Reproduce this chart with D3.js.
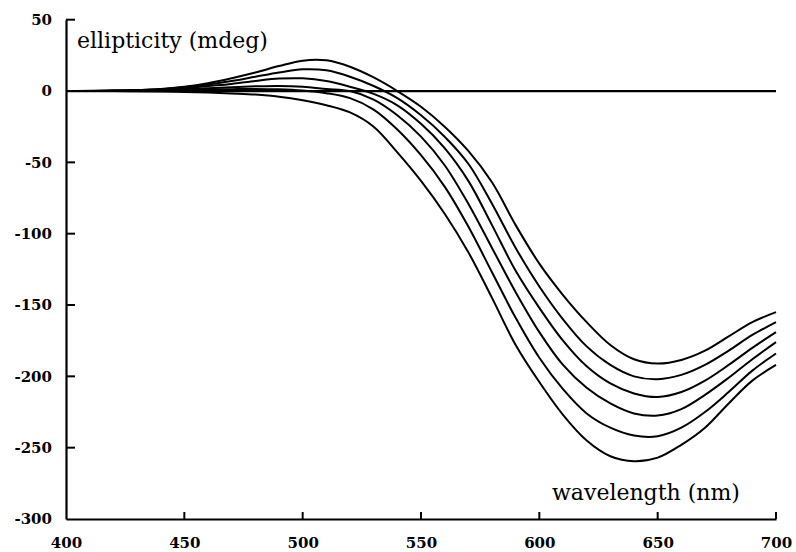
<!DOCTYPE html>
<html>
<head>
<meta charset="utf-8">
<script src="https://cdn.jsdelivr.net/npm/d3@7"></script>
<style>
  html, body { margin: 0; padding: 0; background: #fff; }
  svg text { font-family: "DejaVu Serif", serif; fill: #000; }
</style>
</head>
<body>
<div id="chart"></div>
<script>
// wavelength grid (nm)
var wavelengths = [400, 420, 440, 450, 460, 470, 480, 490, 500, 510, 520, 530, 540, 550, 560,
                   570, 580, 590, 600, 610, 620, 630, 640, 650, 660, 670, 680, 690, 700];

// ellipticity (mdeg), one array per spectrum, top to bottom
var spec1 = [0, 0.3, 1.5, 3, 5.5, 9, 13, 17.5, 21.3, 21.5, 17, 9.5, 0, -11, -25,
             -42, -64, -94, -121, -143, -162, -178, -188, -191, -188.5, -182, -172, -162, -155];
var spec2 = [0, 0.3, 1.3, 2.7, 4.5, 7, 10, 13, 15.2, 14.5, 10, 3.5, -5, -17, -32,
             -51, -79, -110, -137, -160, -179, -192, -200, -202, -199, -192, -182, -171, -162];
var spec3 = [0, 0.2, 1, 2, 3.5, 5, 7, 8.7, 8.9, 7, 3, -2, -10, -23, -40,
             -63, -94, -126, -152, -175, -193, -205, -212, -214.5, -211, -203, -192, -180, -169];
var spec4 = [0, 0.2, 0.7, 1.3, 2, 2.7, 3.3, 3.6, 3, 1.5, 0, -6, -17, -32, -52,
             -79, -110, -141, -169, -192, -208, -219, -226, -227.5, -223, -213, -201, -188, -176];
var spec5 = [0, 0, 0.3, 0.6, 1, 1.3, 1.5, 1.2, 0.3, -1.5, -5, -13, -27, -45, -67,
             -95, -127, -159, -187, -209, -226, -236, -241.5, -242, -236, -225, -211, -196, -184];
var spec6 = [0, 0, -0.3, -0.6, -1, -1.7, -2.5, -4, -6.5, -10, -15, -25, -43, -63, -86,
             -113, -145, -178, -204, -227, -245, -256, -259.5, -257, -248, -236, -219, -203, -192];

var xTicks = [400, 450, 500, 550, 600, 650, 700];
var yTicks = [50, 0, -50, -100, -150, -200, -250, -300];

var w = 796, h = 552;

var svg = d3.select('#chart')
            .append('svg')
            .attr('width', w)
            .attr('height', h);

var x = d3.scaleLinear().domain([400, 700]).range([66, 776]);
var y = d3.scaleLinear().domain([-300, 50]).range([519, 19.7]);

// plain hyphen for negatives, as in the original
var fmt = function(d) { return String(d); };

//axes: labels and domain from d3.axis, inward ticks drawn below
var xAxis = svg.append('g')
    .attr('transform', 'translate(0,' + y(-300) + ')')
    .call(d3.axisBottom(x).tickValues(xTicks).tickFormat(fmt)
          .tickSize(0).tickPadding(18));
var yAxis = svg.append('g')
    .attr('transform', 'translate(' + x(400) + ',0)')
    .call(d3.axisLeft(y).tickValues(yTicks).tickFormat(fmt)
          .tickSize(0).tickPadding(14));

[xAxis, yAxis].forEach(function(a) {
  a.select('.domain').attr('stroke', '#000').attr('stroke-width', 2.2);
  a.selectAll('.tick text')
      .attr('font-family', '"DejaVu Serif", serif')
      .attr('font-size', 15)
      .attr('font-weight', 'bold');
});

svg.append('g').selectAll('line')
    .data(xTicks.slice(1))
  .enter()
  .append('line')
    .attr('x1', function(d) { return x(d); })
    .attr('x2', function(d) { return x(d); })
    .attr('y1', y(-300))
    .attr('y2', y(-300) - 7)
    .attr('stroke', '#000')
    .attr('stroke-width', 2);

svg.append('g').selectAll('line')
    .data(yTicks.slice(0, -1))
  .enter()
  .append('line')
    .attr('x1', x(400))
    .attr('x2', x(400) + 9)
    .attr('y1', function(d) { return y(d); })
    .attr('y2', function(d) { return y(d); })
    .attr('stroke', '#000')
    .attr('stroke-width', 2);

//zero line
svg.append('line')
    .attr('x1', x(400)).attr('x2', x(700))
    .attr('y1', y(0)).attr('y2', y(0))
    .attr('stroke', '#000')
    .attr('stroke-width', 2.2);

//spectra
var line = d3.line()
    .x(function(d) { return x(d[0]); })
    .y(function(d) { return y(d[1]); })
    .curve(d3.curveCatmullRom.alpha(0.5));

[spec1, spec2, spec3, spec4, spec5, spec6].forEach(function(s) {
  svg.append('path')
      .datum(d3.zip(wavelengths, s))
      .attr('d', line)
      .attr('fill', 'none')
      .attr('stroke', '#000')
      .attr('stroke-width', 2);
});

//axis titles
svg.append('text')
    .attr('x', 77).attr('y', 48)
    .style('font-size', '22px')
    .text('ellipticity (mdeg)');
svg.append('text')
    .attr('x', 552).attr('y', 500)
    .style('font-size', '22px')
    .text('wavelength (nm)');
</script>
</body>
</html>
